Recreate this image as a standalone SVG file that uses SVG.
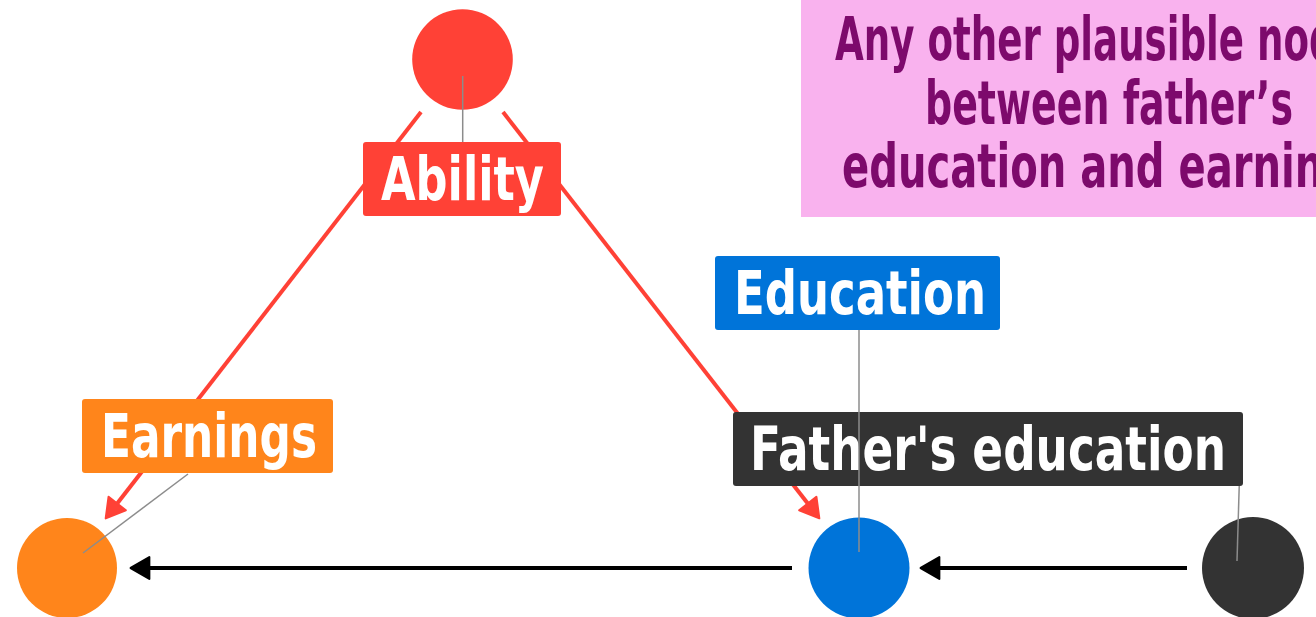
<svg xmlns="http://www.w3.org/2000/svg" width="1316" height="617" viewBox="0 0 1316 617">
  <style>
    .lbl { font-family: "Liberation Sans Narrow", "DejaVu Sans Condensed", "Roboto", sans-serif; font-weight: bold; font-size: 60px; fill: #ffffff; }
    .note { font-family: "Liberation Sans Narrow", "DejaVu Sans Condensed", "Roboto", sans-serif; font-weight: bold; font-size: 60px; fill: #7d0a6c; text-anchor: middle; }
    .lead { stroke: #8c8c8c; stroke-width: 1.5; fill: none; }
    .causal { stroke: #FF4136; stroke-width: 4; fill: none; }
    .edge { stroke: #000000; stroke-width: 4; fill: none; }
  </style>
  <defs>
    <marker id="head-black" markerUnits="userSpaceOnUse" markerWidth="24" markerHeight="26" viewBox="-2 -2 22 25" refX="8" refY="10.5" orient="auto">
      <path d="M0,0 L18,10.5 L0,21 Z" fill="#000" stroke="#000" stroke-width="2" stroke-linejoin="round"/>
    </marker>
    <marker id="head-red" markerUnits="userSpaceOnUse" markerWidth="24" markerHeight="26" viewBox="-2 -2 22 25" refX="8" refY="10.5" orient="auto">
      <path d="M0,0 L18,10.5 L0,21 Z" fill="#FF4136" stroke="#FF4136" stroke-width="2" stroke-linejoin="round"/>
    </marker>
  </defs>

  <!-- connectors -->
  <g id="connectors">
    <line class="causal" x1="421" y1="112" x2="112.1" y2="510.1" marker-end="url(#head-red)"/>
    <line class="causal" x1="503" y1="112" x2="812.9" y2="510.1" marker-end="url(#head-red)"/>
    <line class="edge" x1="792" y1="568" x2="141" y2="568" marker-end="url(#head-black)"/>
    <line class="edge" x1="1187" y1="568" x2="931" y2="568" marker-end="url(#head-black)"/>
  </g>

  <!-- Ability -->
  <g id="ability">
    <circle cx="462.5" cy="59.5" r="50.3" fill="#FF4136"/>
    <line class="lead" x1="462.7" y1="76" x2="462.7" y2="143"/>
    <rect x="363" y="142" width="198" height="74" rx="3" fill="#FF4136"/>
    <text class="lbl" x="381" y="200" textLength="163" lengthAdjust="spacingAndGlyphs">Ability</text>
  </g>

  <!-- Earnings -->
  <g id="earnings">
    <circle cx="67" cy="568" r="50" fill="#FF851B"/>
    <line class="lead" x1="83" y1="553" x2="188" y2="474"/>
    <rect x="82" y="399" width="251" height="74" rx="3" fill="#FF851B"/>
    <text class="lbl" x="101" y="457" textLength="216" lengthAdjust="spacingAndGlyphs">Earnings</text>
  </g>

  <!-- Father's education -->
  <g id="fathers-education">
    <circle cx="1253" cy="568" r="51" fill="#333333"/>
    <line class="lead" x1="1237" y1="561" x2="1240" y2="460"/>
    <rect x="733" y="412" width="510" height="74" rx="3" fill="#333333"/>
    <text class="lbl" x="750" y="470" textLength="476" lengthAdjust="spacingAndGlyphs">Father's education</text>
  </g>

  <!-- Education -->
  <g id="education">
    <circle cx="859" cy="568" r="50.5" fill="#0074D9"/>
    <line class="lead" x1="859" y1="330" x2="859" y2="552"/>
    <rect x="715" y="256" width="285" height="74" rx="3" fill="#0074D9"/>
    <text class="lbl" x="734" y="314" textLength="252" lengthAdjust="spacingAndGlyphs">Education</text>
  </g>

  <!-- question box -->
  <g id="note">
    <rect x="801" y="-5" width="530" height="222" fill="#F9B2EE"/>
    <text class="note" x="1109" y="60" textLength="548" lengthAdjust="spacingAndGlyphs">Any other plausible nodes</text>
    <text class="note" x="1109" y="124" textLength="368" lengthAdjust="spacingAndGlyphs">between father’s</text>
    <text class="note" x="1109" y="187" textLength="534" lengthAdjust="spacingAndGlyphs">education and earnings</text>
  </g>
</svg>
